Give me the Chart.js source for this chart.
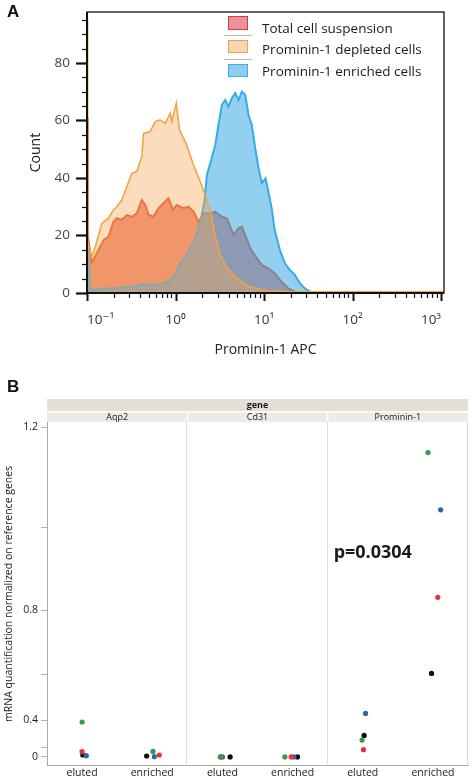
<!DOCTYPE html>
<html><head><meta charset="utf-8">
<script src="https://cdn.jsdelivr.net/npm/chart.js@4.4.1/dist/chart.umd.min.js"></script>
<style>
html,body{margin:0;padding:0;background:#fff;width:472px;height:779px;overflow:hidden;}
#wa{position:absolute;left:0;top:0;width:472px;height:365px;}
#wb{position:absolute;left:0;top:380px;width:472px;height:399px;}
.lbl{position:absolute;font:bold 17px "Liberation Sans",Arial,sans-serif;line-height:1;color:#111;}
#legA{position:absolute;left:224px;top:14px;width:220px;height:70px;}
.lsw{position:absolute;left:4px;width:18px;height:11.5px;border:1.5px solid;}
.ltx{position:absolute;left:38px;font:13.5px "Open Sans",sans-serif;color:#1a1a1a;line-height:16px;white-space:nowrap;}
.lsep{position:absolute;left:0;width:28px;height:1px;background:#b4b8c2;}
</style></head><body>
<div id="wa"><canvas id="ca"></canvas></div>
<div id="wb"><canvas id="cb"></canvas></div>
<div id="legA"></div>
<div class="lbl" style="left:7px;top:3px">A</div>
<div class="lbl" style="left:7px;top:378px">B</div>
<script>
// ---------- Panel A data (flow cytometry histogram) ----------
const histLegend = ['Total cell suspension', 'Prominin-1 depleted cells', 'Prominin-1 enriched cells'];
const xTickValues = [0.1, 1, 10, 100, 1000];
const xTickLabels = ['10\u207B\u00B9', '10\u2070', '10\u00B9', '10\u00B2', '10\u00B3'];
const yTickValues = [0, 20, 40, 60, 80];

const totalX = [0.1, 0.1018, 0.1022, 0.113, 0.129, 0.154, 0.175, 0.199, 0.217, 0.247, 0.282, 0.321, 0.365, 0.416, 0.455, 0.496, 0.564, 0.643, 0.731, 0.834, 0.932, 1.035, 1.23, 1.40, 1.60, 1.82, 2.07, 2.47, 2.81, 3.34, 3.80, 4.52, 5.15, 5.61, 6.13, 6.99, 8.29, 9.45, 11.2, 13.2, 15.8, 18.8, 22.3, 28.7, 1080];
const totalY = [61, 61, 20, 10.5, 13.8, 18.4, 19.6, 24.8, 26, 25.4, 27.1, 26.5, 27.7, 32.3, 30.6, 27.1, 26.5, 29.5, 31.2, 32.9, 28.9, 30.6, 29.5, 30, 28.3, 24.8, 27.7, 27.7, 28.3, 26.5, 26, 20.2, 22.5, 23.1, 20.2, 15.5, 12.1, 9.7, 8.6, 6.9, 3.9, 1.6, 0.5, 0, 0];

const depletedX = [0.1, 0.1012, 0.1022, 0.113, 0.124, 0.147, 0.175, 0.199, 0.217, 0.247, 0.282, 0.321, 0.365, 0.416, 0.435, 0.517, 0.590, 0.671, 0.765, 0.871, 0.908, 1.02, 1.11, 1.32, 1.57, 1.87, 2.13, 2.53, 2.76, 3.14, 3.74, 4.85, 6.86, 10.6, 19.3, 1080];
const depletedY = [95, 95, 18, 12.6, 16.1, 24.2, 26, 28.9, 30, 32.3, 37, 41.6, 42.2, 47.4, 55.5, 56.1, 59.6, 60.2, 59, 62.5, 59.6, 66, 56.7, 52, 45.1, 39.3, 34.7, 27.7, 20.8, 13.8, 9.1, 5.1, 2.2, 0.8, 0.4, 0.4];

const enrichedX = [0.1, 0.1087, 0.118, 0.154, 0.199, 0.258, 0.335, 0.435, 0.564, 0.731, 0.871, 0.993, 1.11, 1.34, 1.53, 1.74, 1.98, 2.13, 2.26, 2.57, 2.81, 3.06, 3.34, 3.65, 3.97, 4.33, 4.73, 5.15, 5.61, 6.13, 6.68, 7.28, 7.96, 8.67, 9.45, 10.4, 11.1, 12.2, 13.2, 15.1, 17.2, 19.6, 22.3, 25.4, 28.9, 33.0, 37.5, 1080];
const enrichedY = [19, 1.6, 1, 1.6, 1.6, 2, 2.2, 3.1, 2.8, 3.4, 4.5, 6.3, 10, 13.2, 16.7, 20.2, 27.1, 32.3, 41, 46.9, 51.5, 58.4, 65.4, 67.1, 64.8, 67.7, 69.5, 67.1, 70, 68.9, 61.9, 58.4, 50.3, 43.4, 38.2, 39.9, 35.8, 29.5, 21.9, 15, 10.3, 8, 6.3, 3.4, 1.6, 0.5, 0, 0];

// ---------- Panel B data (mRNA quantification) ----------
const genes = ['Aqp2', 'Cd31', 'Prominin-1'];
const fractions = ['eluted', 'enriched'];
const bTickValues = [0, 0.2, 0.4, 0.6, 0.8, 1.0, 1.2];
const bTickLabels = ['0', '', '0.4', '', '0.8', '', '1.2'];
const pValueText = 'p=0.0304';
// group order: Aqp2 eluted, Aqp2 enriched, Cd31 eluted, Cd31 enriched, Prominin-1 eluted, Prominin-1 enriched
// x = group index + within-group jitter
const greenX = [0.50, 1.51, 2.47, 3.39, 4.49, 5.43];
const greenY = [0.391, 0.156, 0.01, 0.01, 0.272, 1.153];
const redX   = [0.50, 1.60, 2.48, 3.48, 4.51, 5.57];
const redY   = [0.152, 0.093, 0.01, 0.01, 0.179, 0.835];
const blueX  = [0.56, 1.53, 2.50, 3.52, 4.54, 5.61];
const blueY  = [0.075, 0.036, 0.01, 0.01, 0.436, 1.039];
const blackX = [0.51, 1.42, 2.61, 3.57, 4.52, 5.48];
const blackY = [0.093, 0.066, 0.01, 0.01, 0.307, 0.604];

const zip = (xs, ys) => xs.map((x, i) => ({x, y: ys[i]}));
Chart.defaults.font.family = '"Open Sans", "DejaVu Sans", sans-serif';

// ---------- Panel A ----------
const histColors = [
  {line: '#e2532c', fill: 'rgba(230,72,42,0.64)', sw: 'rgba(225,110,120,0.75)', swb: '#e0363a'},
  {line: '#f2a445', fill: 'rgba(245,168,88,0.40)', sw: 'rgba(248,210,170,0.9)', swb: '#eda050'},
  {line: '#33ade6', fill: 'rgba(58,170,228,0.55)', sw: 'rgba(130,200,236,0.9)', swb: '#3aafe6'}
];

// HTML legend (inside plot A)
(function buildLegend() {
  const leg = document.getElementById('legA');
  const swTops = [2, 25.5, 49.5];
  const textTops = [6, 26.5, 48.5];
  histLegend.forEach((t, i) => {
    const sw = document.createElement('div');
    sw.className = 'lsw';
    sw.style.top = swTops[i] + 'px';
    sw.style.background = histColors[i].sw;
    sw.style.borderColor = histColors[i].swb;
    leg.appendChild(sw);
    const tx = document.createElement('div');
    tx.className = 'ltx';
    tx.style.top = textTops[i] + 'px';
    tx.textContent = t;
    leg.appendChild(tx);
  });
  [20.5, 44.5].forEach(t => {
    const s = document.createElement('div');
    s.className = 'lsep'; s.style.top = t + 'px';
    leg.appendChild(s);
  });
})();

const frameA = {
  id: 'frameA',
  afterDraw(chart) {
    const {ctx, chartArea: a, scales: {x, y}} = chart;
    ctx.save();
    ctx.strokeStyle = '#111';
    ctx.lineWidth = 1.3;
    ctx.strokeRect(a.left, a.top, a.right - a.left, a.bottom - a.top);
    ctx.lineWidth = 2;
    ctx.beginPath(); ctx.moveTo(a.left, a.top); ctx.lineTo(a.left, a.bottom); ctx.lineTo(a.right, a.bottom); ctx.stroke();
    for (let v = 0; v <= y.max; v += 5) {
      const py = Math.round(y.getPixelForValue(v)) + 0.5;
      const major = v % 20 === 0;
      ctx.lineWidth = major ? 2.2 : 1.2;
      ctx.beginPath(); ctx.moveTo(a.left - (major ? 11 : 5), py); ctx.lineTo(a.left, py); ctx.stroke();
    }
    for (let e = -1; e <= 3; e++) {
      for (let m = 1; m <= 9; m++) {
        const v = m * Math.pow(10, e);
        if (v > x.max) break;
        const px = Math.round(x.getPixelForValue(v)) + 0.5;
        const major = m === 1;
        ctx.lineWidth = major ? 2 : 1.2;
        ctx.beginPath(); ctx.moveTo(px, a.bottom); ctx.lineTo(px, a.bottom + (major ? 8 : 5)); ctx.stroke();
      }
    }
    ctx.restore();
  }
};

function histDataset(i, xs, ys, order) {
  return {
    label: histLegend[i], data: zip(xs, ys), order,
    borderColor: histColors[i].line, backgroundColor: histColors[i].fill,
    borderWidth: i === 1 ? 1.6 : 2, fill: 'origin', pointRadius: 0, tension: 0
  };
}

const noPad = s => { s.paddingTop = 0; s.paddingBottom = 0; s.paddingLeft = 0; s.paddingRight = 0; };

new Chart(document.getElementById('ca'), {
  type: 'line',
  data: {datasets: [
    histDataset(1, depletedX, depletedY, 0),
    histDataset(2, enrichedX, enrichedY, 1),
    histDataset(0, totalX, totalY, 2)
  ]},
  options: {
    responsive: true, maintainAspectRatio: false, animation: false,
    layout: {padding: {top: 12, right: 28, left: 0, bottom: 0}},
    plugins: {legend: {display: false}, tooltip: {enabled: false}, title: {display: false}},
    scales: {
      x: {
        type: 'logarithmic', min: 0.1, max: 1080,
        afterBuildTicks: s => { s.ticks = xTickValues.map(v => ({value: v, major: true})); },
        afterFit: s => { s.height = 72; noPad(s); },
        grid: {display: false, drawTicks: false},
        border: {display: false},
        ticks: {callback: (v, i) => xTickLabels[i], autoSkip: false, maxRotation: 0, align: 'inner', padding: 19, color: '#333', font: {size: 13.5}},
        title: {display: true, text: 'Prominin-1 APC', color: '#222', font: {size: 14}, padding: {top: 0, bottom: 6.6}}
      },
      y: {
        min: 0, max: 97.7,
        afterBuildTicks: s => { s.ticks = yTickValues.map(v => ({value: v})); },
        afterFit: s => { s.width = 87; noPad(s); },
        grid: {display: false, drawTicks: false},
        border: {display: false},
        ticks: {padding: 17, color: '#444', font: {size: 13.5}},
        title: {display: true, text: 'Count', color: '#222', font: {size: 14}, padding: {top: 27.6, bottom: 0}}
      }
    }
  },
  plugins: [frameA]
});

// ---------- Panel B ----------
class PowerScale extends Chart.LinearScale {
  _f(v) { return Math.sign(v) * v * v; }
  getPixelForValue(v) {
    const a = this._f(this.min), b = this._f(this.max);
    return this.getPixelForDecimal((this._f(v) - a) / (b - a));
  }
  getValueForPixel(p) {
    const a = this._f(this.min), b = this._f(this.max);
    const t = a + this.getDecimalForPixel(p) * (b - a);
    return Math.sign(t) * Math.sqrt(Math.abs(t));
  }
}
PowerScale.id = 'power2';
PowerScale.defaults = Chart.LinearScale.defaults;
Chart.register(PowerScale);

const facetsB = {
  id: 'facetsB',
  beforeDatasetsDraw(chart) {
    const {ctx, chartArea: a, scales: {x, y}} = chart;
    ctx.save();
    ctx.strokeStyle = '#dcdcdc'; ctx.lineWidth = 1;
    [2, 4, 6].forEach(v => {
      const px = Math.round(x.getPixelForValue(v)) - 0.5;
      ctx.beginPath(); ctx.moveTo(px, a.top); ctx.lineTo(px, a.bottom); ctx.stroke();
    });
    const w = a.right - a.left;
    ctx.fillStyle = '#e3dfd6';
    ctx.fillRect(a.left, a.top - 23, w, 12.7);
    ctx.fillStyle = '#eeebe5';
    ctx.fillRect(a.left, a.top - 10.3, w, 10.3);
    ctx.strokeStyle = '#ffffff'; ctx.lineWidth = 1.5;
    [2, 4].forEach(v => {
      const px = x.getPixelForValue(v);
      ctx.beginPath(); ctx.moveTo(px, a.top - 10.3); ctx.lineTo(px, a.top); ctx.stroke();
    });
    ctx.beginPath(); ctx.moveTo(a.left, a.top - 10.3); ctx.lineTo(a.right, a.top - 10.3); ctx.stroke();
    ctx.fillStyle = '#1a1a1a';
    ctx.textAlign = 'center'; ctx.textBaseline = 'middle';
    ctx.font = 'bold 9px "Open Sans", sans-serif';
    ctx.fillText('gene', (a.left + a.right) / 2, a.top - 16.5);
    ctx.font = '9px "Open Sans", sans-serif';
    genes.forEach((g, i) => {
      ctx.fillText(g, x.getPixelForValue(2 * i + 1), a.top - 5);
    });
    ctx.font = 'bold 18px "Open Sans", sans-serif';
    ctx.textAlign = 'left';
    ctx.fillStyle = '#1b1b1b';
    ctx.fillText(pValueText, x.getPixelForValue(4.085), y.getPixelForValue(0.945));
    ctx.restore();
  }
};

const groupCenters = genes.flatMap((g, gi) => fractions.map((f, fi) => 2 * gi + fi + 0.5));
const sampleSeries = [
  {x: greenX, y: greenY, c: '#2f9e4c'},
  {x: redX, y: redY, c: '#ea3236'},
  {x: blueX, y: blueY, c: '#2c67ab'},
  {x: blackX, y: blackY, c: '#0c0c0c'}
];

new Chart(document.getElementById('cb'), {
  type: 'scatter',
  data: {datasets: sampleSeries.map(s => ({
    data: zip(s.x, s.y), backgroundColor: s.c, borderColor: s.c, borderWidth: 0, pointRadius: 2.6
  }))},
  options: {
    responsive: true, maintainAspectRatio: false, animation: false,
    layout: {padding: {top: 42, right: 2, left: 0, bottom: 0}},
    plugins: {legend: {display: false}, tooltip: {enabled: false}},
    scales: {
      x: {
        type: 'linear', min: 0, max: 6,
        afterBuildTicks: s => { s.ticks = groupCenters.map(v => ({value: v})); },
        afterFit: s => { s.height = 13.3; },
        grid: {display: false, drawTicks: false},
        border: {display: true, color: '#a8a8a8', width: 1},
        ticks: {callback: (v, i) => fractions[i % 2], autoSkip: false, maxRotation: 0, padding: 1, color: '#1a1a1a', font: {size: 10.5}}
      },
      y: {
        type: 'power2', min: -0.195, max: 1.2095,
        afterBuildTicks: s => { s.ticks = bTickValues.map(v => ({value: v})); },
        afterFit: s => { s.width = 47; },
        grid: {display: true, drawOnChartArea: false, drawTicks: true, tickLength: 6, color: '#b0b0b0'},
        border: {display: true, color: '#a8a8a8', width: 1},
        ticks: {callback: (v, i) => bTickLabels[i], autoSkip: false, padding: 3, color: '#1a1a1a', font: {size: 10.5}},
        title: {display: true, text: 'mRNA quantification normalized on reference genes', color: '#1a1a1a', font: {size: 10.5}, padding: {top: 3, bottom: 0}}
      }
    }
  },
  plugins: [facetsB]
});
</script>
</body></html>
